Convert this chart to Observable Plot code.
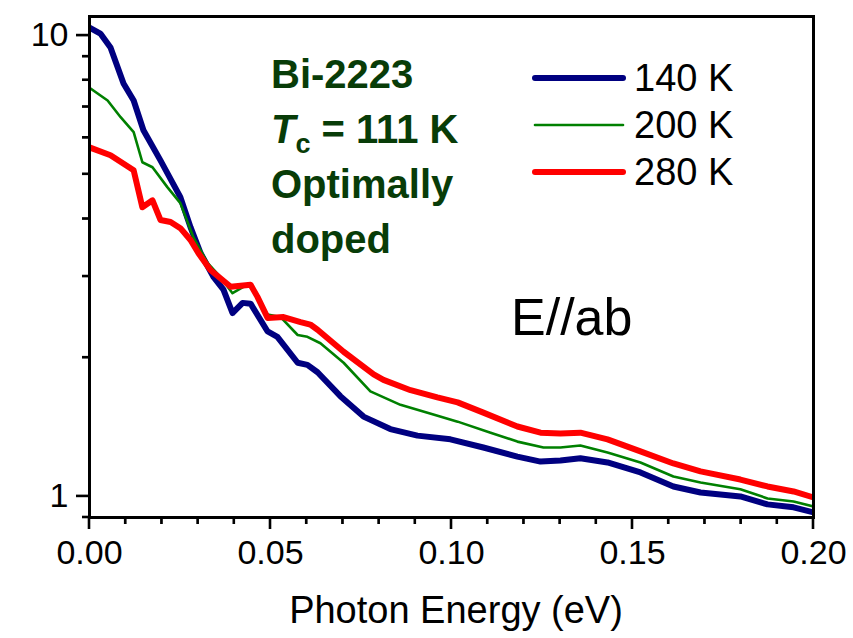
<!DOCTYPE html>
<html><head><meta charset="utf-8">
<script src="https://cdn.jsdelivr.net/npm/d3@7"></script>
<script src="https://cdn.jsdelivr.net/npm/@observablehq/plot@0.6"></script>
<style>
body{margin:0;background:#fff;}
#chart svg{font-family:"Liberation Sans", Arial, sans-serif;}
</style>
</head><body><div id="chart"></div>
<script>
// Photon energy (eV) and the plotted quantity (log scale) per temperature
const energy140 = [0, 0.003, 0.0058, 0.0094, 0.0122, 0.0149, 0.0196, 0.0251, 0.0279, 0.0307, 0.0343, 0.037, 0.0395, 0.0423, 0.0445, 0.0492, 0.0519, 0.0575, 0.0602, 0.063, 0.0693, 0.0757, 0.0831, 0.0906, 0.0997, 0.1088, 0.1182, 0.1246, 0.1301, 0.1356, 0.1431, 0.1522, 0.1613, 0.1688, 0.1798, 0.1873, 0.1945, 0.2];
const value140  = [10.4, 10.1, 9.42, 7.87, 7.23, 6.23, 5.36, 4.46, 3.84, 3.37, 2.99, 2.81, 2.50, 2.63, 2.62, 2.28, 2.22, 1.95, 1.93, 1.86, 1.65, 1.49, 1.40, 1.355, 1.33, 1.277, 1.22, 1.19, 1.196, 1.21, 1.185, 1.127, 1.051, 1.02, 1.0, 0.961, 0.947, 0.923];

const energy200 = [0, 0.005, 0.0086, 0.0122, 0.0146, 0.0174, 0.0215, 0.0251, 0.0287, 0.0326, 0.0362, 0.0395, 0.0425, 0.0445, 0.0492, 0.0528, 0.0575, 0.0602, 0.0638, 0.0702, 0.0776, 0.0859, 0.095, 0.1017, 0.1108, 0.1182, 0.1254, 0.1301, 0.1356, 0.1431, 0.1522, 0.1613, 0.1688, 0.1798, 0.1873, 0.1945, 0.2];
const value200  = [7.7, 7.23, 6.65, 6.17, 5.31, 5.18, 4.69, 4.33, 3.65, 3.21, 2.99, 2.76, 2.85, 2.85, 2.48, 2.45, 2.24, 2.22, 2.15, 1.95, 1.69, 1.58, 1.505, 1.453, 1.375, 1.315, 1.277, 1.277, 1.29, 1.245, 1.185, 1.105, 1.072, 1.036, 0.99, 0.975, 0.951];

const energy280 = [0, 0.0058, 0.0122, 0.0146, 0.0174, 0.0196, 0.0224, 0.0251, 0.0279, 0.0301, 0.0334, 0.039, 0.0445, 0.0464, 0.0492, 0.0536, 0.0583, 0.061, 0.063, 0.0702, 0.0785, 0.0812, 0.0887, 0.0961, 0.1017, 0.1088, 0.1182, 0.1246, 0.1301, 0.1356, 0.1431, 0.1522, 0.1613, 0.1688, 0.1798, 0.1873, 0.1945, 0.2];
const value280  = [5.72, 5.50, 5.10, 4.24, 4.39, 3.98, 3.94, 3.82, 3.60, 3.37, 3.10, 2.85, 2.88, 2.71, 2.44, 2.45, 2.39, 2.36, 2.30, 2.06, 1.84, 1.79, 1.70, 1.64, 1.60, 1.52, 1.418, 1.375, 1.369, 1.375, 1.33, 1.252, 1.179, 1.133, 1.088, 1.051, 1.025, 0.995];

const seriesNames  = ["140 K", "200 K", "280 K"];
const seriesColors = ["#000080", "#008000", "#ff0000"];
const seriesWidths = [6, 2.6, 6];

const xMajorTicks = [0, 0.05, 0.10, 0.15, 0.20];
const xMinorTicks = [0.01, 0.02, 0.03, 0.04, 0.06, 0.07, 0.08, 0.09, 0.11, 0.12, 0.13, 0.14, 0.16, 0.17, 0.18, 0.19];
const yMajorTicks = [1, 10];
const yMinorTicks = [0.9, 2, 3, 4, 5, 6, 7, 8, 9];

const annotationLines = ["Bi-2223", "Tc = 111 K", "Optimally", "doped"];
const polarization = "E//ab";
const xLabel = "Photon Energy (eV)";

const energies = [energy140, energy200, energy280];
const values = [value140, value200, value280];
const rows = seriesNames.map((name, i) => energies[i].map((e, j) => ({series: name, energy: e, value: values[i][j]})));

const FONT = '"Liberation Sans", Arial, sans-serif';

const svg = Plot.plot({
  width: 853, height: 638,
  marginLeft: 89, marginRight: 40, marginTop: 16, marginBottom: 121,
  style: {fontFamily: FONT, background: "white", overflow: "visible"},
  x: {domain: [0, 0.2]},
  y: {type: "log", domain: [0.9, 11]},
  marks: [
    ...rows.map((data, i) => Plot.line(data, {x: "energy", y: "value", stroke: seriesColors[i], strokeWidth: seriesWidths[i], strokeLinejoin: "round", clip: true})),
    Plot.axisX({ticks: xMajorTicks, tickFormat: d3.format(".2f"), tickSize: 12, tickPadding: 10, fontSize: 34, label: null}),
    Plot.axisX({ticks: xMinorTicks, tickFormat: () => "", tickSize: 7, label: null}),
    Plot.axisY({ticks: yMajorTicks, tickFormat: d => String(d), tickSize: 13, tickPadding: 8, fontSize: 34, label: null}),
    Plot.axisY({ticks: yMinorTicks, tickFormat: () => "", tickSize: 7, label: null}),
    Plot.frame({stroke: "black", strokeWidth: 3})
  ]
});
document.getElementById("chart").appendChild(svg);

const s = d3.select(svg);
const xs = svg.scale("x"), ys = svg.scale("y");
const bottom = Math.max(...ys.range), left = Math.min(...xs.range);

// thicker tick marks overlaid, positioned through the plot's own scales
const tk = s.append("g").attr("stroke", "black").attr("stroke-width", 2.6).attr("stroke-linecap", "butt");
xMajorTicks.forEach(v => { const x = xs.apply(v); tk.append("line").attr("x1", x).attr("x2", x).attr("y1", bottom).attr("y2", bottom + 12); });
xMinorTicks.forEach(v => { const x = xs.apply(v); tk.append("line").attr("x1", x).attr("x2", x).attr("y1", bottom).attr("y2", bottom + 7); });
yMajorTicks.forEach(v => { const y = ys.apply(v); tk.append("line").attr("x1", left - 13).attr("x2", left).attr("y1", y).attr("y2", y); });
yMinorTicks.forEach(v => { const y = ys.apply(v); tk.append("line").attr("x1", left - 7).attr("x2", left).attr("y1", y).attr("y2", y); });

// legend
const leg = s.append("g").attr("text-anchor", "start");
seriesNames.forEach((name, i) => {
  const y = 78 + i * 47;
  leg.append("line").attr("x1", 535).attr("x2", 623).attr("y1", y).attr("y2", y)
    .attr("stroke", seriesColors[i]).attr("stroke-width", seriesWidths[i]).attr("stroke-linecap", "round");
  leg.append("text").attr("x", 634).attr("y", y).attr("dy", "0.35em")
    .attr("font-size", 38).attr("font-family", FONT).attr("fill", "black").text(name);
});

// annotation
const ann = s.append("g").attr("text-anchor", "start").attr("fill", "#083c08").attr("font-weight", "bold").attr("font-family", FONT).attr("font-size", 40);
ann.append("text").attr("x", 271).attr("y", 88).text(annotationLines[0]);
const t2 = ann.append("text").attr("x", 271).attr("y", 143);
t2.append("tspan").attr("font-style", "italic").text(annotationLines[1].slice(0, 1));
t2.append("tspan").attr("font-size", 27).attr("dy", 10).text(annotationLines[1].slice(1, 2));
t2.append("tspan").attr("dy", -10).text(annotationLines[1].slice(2));
ann.append("text").attr("x", 271).attr("y", 198).text(annotationLines[2]);
ann.append("text").attr("x", 271).attr("y", 253).text(annotationLines[3]);

// polarization label
s.append("text").attr("text-anchor", "start").attr("x", 511).attr("y", 335).attr("font-size", 52).attr("font-family", FONT).attr("fill", "black").text(polarization);

// x label
s.append("text").attr("text-anchor", "middle").attr("x", 456).attr("y", 623).attr("font-size", 38).attr("font-family", FONT).attr("fill", "black").text(xLabel);
</script>
</body></html>
